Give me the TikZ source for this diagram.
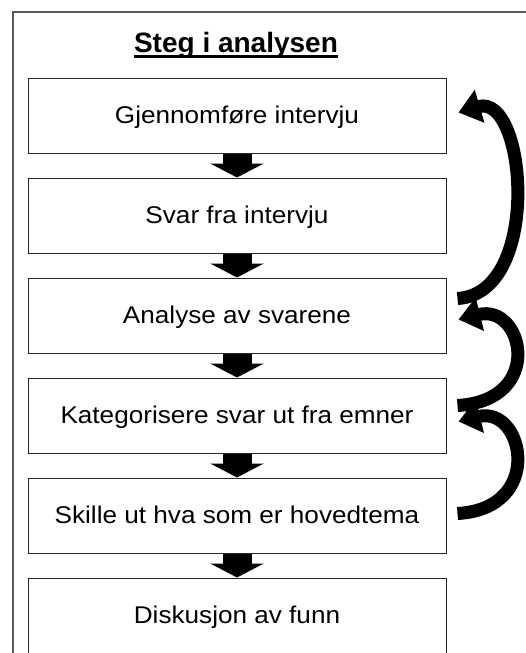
\documentclass[tikz,border=0pt]{standalone}
\usepackage{fontspec}
\setmainfont{Liberation Sans}
\newfontfamily\stepfont[FakeStretch=1.08]{Liberation Sans}
\usetikzlibrary{positioning,arrows.meta}

\begin{document}
\begin{tikzpicture}[x=1pt,y=1pt,
  stepbox/.style={draw=black!85, line width=1pt, minimum width=418pt, minimum height=75pt,
    inner sep=0pt, text height=18pt, text depth=3pt, font=\stepfont\fontsize{24.2}{28}\selectfont},
  down/.style={line width=29pt, -{Triangle[width=53pt,length=14pt]}},
  back/.style={line width=13pt, -{Triangle[width=33pt,length=22pt]}}]
\useasboundingbox (0,0) rectangle (525,-653);
%frame
\draw[line width=2pt, black!65] (13,-660) -- (13,-12) -- (530,-12);

%title
\node[font=\bfseries\fontsize{28}{32}\selectfont, anchor=base, inner sep=0pt] (title) at (236,-52) {Steg i analysen};
\draw[line width=2.2pt] ([yshift=-4.5pt]title.base west) -- ([yshift=-4.5pt]title.base east);

%steps
\node[stepbox] (s1) at (237,-115.5) {Gjennomføre intervju};
\node[stepbox, below=24pt of s1] (s2) {Svar fra intervju};
\node[stepbox, below=24pt of s2] (s3) {Analyse av svarene};
\node[stepbox, below=24pt of s3] (s4) {Kategorisere svar ut fra emner};
\node[stepbox, below=24pt of s4] (s5) {Skille ut hva som er hovedtema};
\node[stepbox, below=24pt of s5] (s6) {Diskusjon av funn};

\foreach \a/\b in {s1/s2,s2/s3,s3/s4,s4/s5,s5/s6}
  \draw[down] (\a) -- (\b);

%back loops
\draw[back] ([xshift=11pt,yshift=17pt]s3.east) .. controls +(85,5) and +(68,20) .. ([xshift=12pt,yshift=3pt]s1.east);
\draw[back] ([xshift=11pt,yshift=10pt]s4.east) .. controls +(88,5) and +(65,16) .. ([xshift=12pt,yshift=-4pt]s3.east);
\draw[back] ([xshift=11pt,yshift=2pt]s5.east) .. controls +(88,5) and +(65,16) .. ([xshift=12pt,yshift=-6pt]s4.east);
\end{tikzpicture}
\end{document}
